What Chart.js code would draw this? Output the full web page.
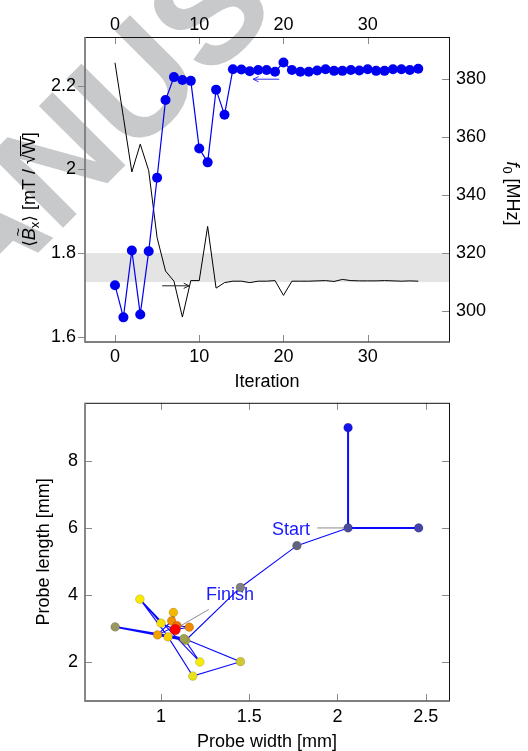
<!DOCTYPE html>
<html><head><meta charset="utf-8">
<script src="https://cdn.jsdelivr.net/npm/chart.js@4.4.1/dist/chart.umd.min.js"></script>
<style>
html,body{margin:0;padding:0;background:#fff;width:528px;height:751px;overflow:hidden}
#c1{position:absolute;left:0;top:0}
#c2{position:absolute;left:0;top:385px}
</style></head><body>
<canvas id="c1" width="528" height="395"></canvas>
<canvas id="c2" width="528" height="366"></canvas>
<script>
// ---------- data: top chart ----------
const iterations = [0,1,2,3,4,5,6,7,8,9,10,11,12,13,14,15,16,17,18,19,20,21,22,23,24,25,26,27,28,29,30,31,32,33,34,35,36];
const bxMean = [1.723,1.646,1.806,1.653,1.804,1.980,2.166,2.221,2.214,2.212,2.050,2.017,2.191,2.131,2.240,2.239,2.235,2.238,2.238,2.234,2.256,2.238,2.234,2.234,2.237,2.240,2.236,2.236,2.238,2.237,2.240,2.236,2.236,2.240,2.240,2.238,2.241];
const f0MHz = [385.7,366.9,348.0,357.6,348.5,325.3,313.8,310.3,297.9,310.5,310.5,329.2,307.9,309.8,310.3,310.3,309.8,310.3,310.3,310.5,305.4,310.3,310.3,310.3,310.4,310.5,310.2,310.9,310.5,310.4,310.4,310.4,310.5,310.4,310.3,310.4,310.3];
const iterTicks = [0,10,20,30];
const bxTicks = [1.6,1.8,2,2.2];
const f0Ticks = [300,320,340,360,380];
const f0Band = [310,320];
const bxArrow = {from:[19.5,2.216], to:[16.4,2.216]};
const f0Arrow = {from:[5.6,308.7], to:[8.8,308.7]};

// ---------- data: bottom chart ----------
const pointWidth  = [2.06,2.06,2.46,1.77,1.45,0.74,1.14,1.13,1.45,1.18,1.22,0.88,1.00,1.04,1.07,0.98,1.06,1.16,1.09,1.08];
const pointLength = [9.00,6.00,6.00,5.47,4.22,3.04,2.64,2.69,2.00,1.57,1.99,3.87,3.15,2.74,3.47,2.80,3.22,3.03,3.08,2.96];
const pathWidth  = [2.06,2.06,2.46,2.06,1.77,1.45,1.14,0.74,1.13,1.45,1.18,1.04,0.88,1.22,1.13,1.04,0.88,1.00,1.08,1.07,1.06,0.98,1.09,1.16,1.08];
const pathLength = [9.00,6.00,6.00,6.00,5.47,4.22,2.64,3.04,2.69,2.00,1.57,2.74,3.87,1.99,2.69,2.74,3.87,3.15,2.96,3.47,3.22,2.80,3.08,3.03,2.96];
const widthTicks = [1,1.5,2,2.5];
const lengthTicks = [2,4,6,8];
const startNote  = {text:'Start',  w:1.844, l:5.94, from:[1.885,6.0], to:[2.05,6.0]};
const finishNote = {text:'Finish', w:1.255, l:3.98, from:[1.27,3.56], to:[1.11,3.07]};

// ---------- styles ----------
const FONT = '"Liberation Sans", Arial, Helvetica, sans-serif';
const markerColors = ['#1414e6','#4a4a9e','#4444a8','#63637f','#7f7f7f','#99995f','#a9a94a','#a0a050','#cfc832','#e8e018','#f4ec08','#f8ea00','#f8e000','#f8d000','#f4b800','#f4a000','#f09000','#f08800','#f07000','#ff0000'];
const thickSegments = [0,1,2,6,7];

Chart.defaults.font.family = FONT;
Chart.defaults.font.size = 18;
Chart.defaults.color = '#000';

function fixedTicks(arr){ return s => { s.ticks = arr.map(v => ({value:v})); }; }

function drawRich(ctx, parts, cx, cy, rot){
  ctx.save(); ctx.translate(cx,cy); ctx.rotate(rot);
  ctx.textBaseline='alphabetic'; ctx.textAlign='left'; ctx.fillStyle='#000'; ctx.strokeStyle='#000';
  let total=0;
  parts.forEach(p=>{ctx.font=p.font; p.w=ctx.measureText(p.t).width; total+=p.w;});
  let x=-total/2;
  parts.forEach(p=>{
    ctx.font=p.font; ctx.fillText(p.t, x, p.dy||0);
    if(p.tilde){ ctx.font='15px '+FONT; const tw=ctx.measureText('~').width; ctx.fillText('~', x+p.w/2-tw/2+2, -12); }
    if(p.over){ ctx.lineWidth=1; ctx.beginPath(); ctx.moveTo(x-2, -14.5); ctx.lineTo(x+p.w+1, -14.5); ctx.stroke(); }
    x+=p.w;
  });
  ctx.restore();
}

function framePlugin(cfg){
  return {id:'frame', afterDraw(chart){
    const {ctx, chartArea:a, scales} = chart;
    ctx.save();
    ctx.strokeStyle='#8a8a8a'; ctx.lineWidth=1;
    cfg.ticks.forEach(t=>{
      const s=scales[t.scale];
      t.values.forEach(v=>{
        const p=Math.round(s.getPixelForValue(v))+0.5;
        ctx.beginPath();
        if(t.side==='bottom'){ctx.moveTo(p,a.bottom);ctx.lineTo(p,a.bottom-t.len);}
        if(t.side==='top'){ctx.moveTo(p,a.top);ctx.lineTo(p,a.top+t.len);}
        if(t.side==='left'){ctx.moveTo(a.left,p);ctx.lineTo(a.left+t.len,p);}
        if(t.side==='right'){ctx.moveTo(a.right,p);ctx.lineTo(a.right-t.len,p);}
        ctx.stroke();
      });
    });
    ctx.strokeStyle='#111'; ctx.lineWidth=1;
    ctx.beginPath(); ctx.moveTo(a.left,a.top+0.5); ctx.lineTo(a.right,a.top+0.5); ctx.stroke();
    ctx.beginPath(); ctx.moveTo(a.right+0.5,a.top); ctx.lineTo(a.right+0.5,a.bottom); ctx.stroke();
    ctx.strokeStyle='#555'; ctx.lineWidth=1.5;
    ctx.beginPath(); ctx.moveTo(a.left,a.bottom); ctx.lineTo(a.right+1,a.bottom); ctx.stroke();
    ctx.strokeStyle='#7a7a7a'; ctx.lineWidth=1.8;
    ctx.beginPath(); ctx.moveTo(a.left,a.top); ctx.lineTo(a.left,a.bottom+0.75); ctx.stroke();
    ctx.restore();
  }};
}

// ---------- top chart plugins ----------
const watermark = {id:'wm', beforeDraw(chart){
  const ctx=chart.ctx; ctx.save();
  ctx.font='bold 150px '+FONT; ctx.fillStyle='#c8c9ca';
  const pre=ctx.measureText('MAN').width, wu=ctx.measureText('U').width;
  ctx.translate(133,82); ctx.rotate(-45*Math.PI/180);
  ctx.textBaseline='alphabetic';
  ctx.fillText('MANUSCRIPT', -(pre+wu/2), 0.716*150/2);
  ctx.restore();
}};
const band = {id:'band', beforeDatasetsDraw(chart){
  const {ctx, chartArea:a, scales} = chart; const s=scales.y2;
  const y1=s.getPixelForValue(f0Band[1]), y0=s.getPixelForValue(f0Band[0]);
  ctx.save(); ctx.fillStyle='#e4e4e4'; ctx.fillRect(a.left,y1,a.right-a.left,y0-y1); ctx.restore();
}};
function arrow(ctx, x1,y1,x2,y2,color){
  ctx.save(); ctx.strokeStyle=color; ctx.lineWidth=1;
  ctx.beginPath(); ctx.moveTo(x1,y1); ctx.lineTo(x2,y2); ctx.stroke();
  const ang=Math.atan2(y2-y1,x2-x1), L=6, w=0.45;
  ctx.beginPath();
  ctx.moveTo(x2-L*Math.cos(ang-w), y2-L*Math.sin(ang-w));
  ctx.lineTo(x2,y2);
  ctx.lineTo(x2-L*Math.cos(ang+w), y2-L*Math.sin(ang+w));
  ctx.stroke(); ctx.restore();
}
const arrows = {id:'arrows', afterDatasetsDraw(chart){
  const {ctx, scales:{x,y,y2}} = chart;
  arrow(ctx, x.getPixelForValue(bxArrow.from[0]), y.getPixelForValue(bxArrow.from[1]), x.getPixelForValue(bxArrow.to[0]), y.getPixelForValue(bxArrow.to[1]), '#2a2aff');
  arrow(ctx, x.getPixelForValue(f0Arrow.from[0]), y2.getPixelForValue(f0Arrow.from[1]), x.getPixelForValue(f0Arrow.to[0]), y2.getPixelForValue(f0Arrow.to[1]), '#222');
}};
const richTitles = {id:'rich', afterDraw(chart){
  const ctx=chart.ctx, a=chart.chartArea, mid=(a.top+a.bottom)/2;
  const R='18px '+FONT, I='italic 18px '+FONT, S='13px '+FONT;
  drawRich(ctx, [
    {t:'\u27E8', font:'17px "DejaVu Sans", '+FONT},
    {t:'B', font:I, tilde:true},
    {t:'x', font:S, dy:4},
    {t:'\u27E9', font:'17px "DejaVu Sans", '+FONT},
    {t:' [mT / ', font:R},
    {t:'\u221A', font:R},
    {t:'W', font:R, over:true},
    {t:']', font:R}
  ], 35, mid, -Math.PI/2);
  drawRich(ctx, [
    {t:'f', font:I},
    {t:'0', font:S, dy:4},
    {t:' [MHz]', font:R}
  ], 507, mid+4, Math.PI/2);
}};

new Chart(document.getElementById('c1'), {
  type:'line',
  data:{datasets:[
    {label:'Bx', data:iterations.map((x,i)=>({x, y:bxMean[i]})), xAxisID:'x', yAxisID:'y',
     borderColor:'#0000f0', backgroundColor:'#0000f0', borderWidth:1.2, pointRadius:5, pointHoverRadius:5, pointBorderWidth:0, tension:0},
    {label:'f0', data:iterations.map((x,i)=>({x, y:f0MHz[i]})), xAxisID:'x', yAxisID:'y2',
     borderColor:'#000', borderWidth:1, pointRadius:0, tension:0}
  ]},
  options:{
    responsive:false, animation:false, events:[],
    layout:{padding:0},
    plugins:{legend:{display:false}, tooltip:{enabled:false}},
    scales:{
      x:{type:'linear', position:'bottom', min:-3.56, max:39.65, bounds:'data',
         afterBuildTicks:fixedTicks(iterTicks), afterFit:s=>{s.height=53;},
         ticks:{padding:4, maxRotation:0, autoSkip:false, callback:v=>String(v)},
         grid:{display:false, drawTicks:false}, border:{display:false},
         title:{display:true, text:'Iteration', font:{size:18, lineHeight:1}, padding:{top:0,bottom:3.7}}},
      x2:{type:'linear', position:'top', min:-3.56, max:39.65, bounds:'data',
         afterBuildTicks:fixedTicks(iterTicks), afterFit:s=>{s.height=37;},
         ticks:{padding:1, maxRotation:0, autoSkip:false, callback:v=>String(v)},
         grid:{display:false, drawTicks:false}, border:{display:false}},
      y:{type:'linear', position:'left', min:1.587, max:2.317, bounds:'data',
         afterBuildTicks:fixedTicks(bxTicks), afterFit:s=>{s.width=85;},
         ticks:{padding:9, autoSkip:false, callback:v=>String(v)},
         grid:{display:false, drawTicks:false}, border:{display:false}},
      y2:{type:'linear', position:'right', min:289.3, max:394.6, bounds:'data',
         afterBuildTicks:fixedTicks(f0Ticks), afterFit:s=>{s.width=79;},
         ticks:{padding:7, autoSkip:false, callback:v=>String(v)},
         grid:{display:false, drawTicks:false}, border:{display:false}}
    }
  },
  plugins:[watermark, band, arrows, richTitles, framePlugin({ticks:[
    {scale:'x', side:'bottom', len:7, values:iterTicks},
    {scale:'x2', side:'top', len:7, values:iterTicks},
    {scale:'y', side:'left', len:-7, values:bxTicks},
    {scale:'y2', side:'right', len:7, values:f0Ticks}
  ]})]
});

// ---------- bottom chart ----------
const notes = {id:'notes', beforeDatasetsDraw(chart){
  const {ctx, scales:{x,y}} = chart;
  ctx.save();
  ctx.strokeStyle='#8c8c8c'; ctx.lineWidth=1;
  [startNote, finishNote].forEach(n=>{
    ctx.beginPath(); ctx.moveTo(x.getPixelForValue(n.from[0]), y.getPixelForValue(n.from[1]));
    ctx.lineTo(x.getPixelForValue(n.to[0]), y.getPixelForValue(n.to[1])); ctx.stroke();
  });
  ctx.font='18px '+FONT; ctx.fillStyle='#1a1aff'; ctx.textBaseline='middle';
  ctx.textAlign='right'; ctx.fillText(startNote.text, x.getPixelForValue(startNote.w), y.getPixelForValue(startNote.l));
  ctx.textAlign='left'; ctx.fillText(finishNote.text, x.getPixelForValue(finishNote.w), y.getPixelForValue(finishNote.l));
  ctx.restore();
}};
const lastIdx = pointWidth.length-1;
new Chart(document.getElementById('c2'), {
  type:'scatter',
  data:{datasets:[
    {label:'iterates', data:pointWidth.map((x,i)=>({x, y:pointLength[i]})),
     pointBackgroundColor:markerColors, pointBorderColor:'rgba(0,0,0,0.18)', pointBorderWidth:0.8,
     pointRadius:c=>c.dataIndex===lastIdx?5.3:4.4, pointHoverRadius:c=>c.dataIndex===lastIdx?5.3:4.4, showLine:false},
    {label:'path', data:pathWidth.map((x,i)=>({x, y:pathLength[i]})), showLine:true,
     borderColor:'#0a0aff', borderWidth:1.1, pointRadius:0,
     segment:{borderWidth:c=>thickSegments.includes(c.p0DataIndex)?2:1.1}}
  ]},
  options:{
    responsive:false, animation:false, events:[],
    layout:{padding:{top:11, right:79, left:0, bottom:0}},
    plugins:{legend:{display:false}, tooltip:{enabled:false}},
    scales:{
      x:{type:'linear', position:'bottom', min:0.569, max:2.632, bounds:'data',
         afterBuildTicks:fixedTicks(widthTicks), afterFit:s=>{s.height=50;},
         ticks:{padding:5, maxRotation:0, autoSkip:false, callback:v=>String(v)},
         grid:{display:false, drawTicks:false}, border:{display:false},
         title:{display:true, text:'Probe width [mm]', font:{size:18, lineHeight:1}, padding:{top:0,bottom:0}}},
      y:{type:'linear', position:'left', min:0.823, max:9.743, bounds:'data',
         afterBuildTicks:fixedTicks(lengthTicks), afterFit:s=>{s.width=85;},
         ticks:{padding:7, autoSkip:false, callback:v=>String(v)},
         grid:{display:false, drawTicks:false}, border:{display:false},
         title:{display:true, text:'Probe length [mm]', font:{size:18, lineHeight:1}, padding:{top:35,bottom:0}}}
    }
  },
  plugins:[notes, framePlugin({ticks:[
    {scale:'x', side:'bottom', len:7, values:widthTicks},
    {scale:'x', side:'top', len:7, values:widthTicks},
    {scale:'y', side:'left', len:7, values:lengthTicks},
    {scale:'y', side:'right', len:7, values:lengthTicks}
  ]})]
});
</script>
</body></html>
